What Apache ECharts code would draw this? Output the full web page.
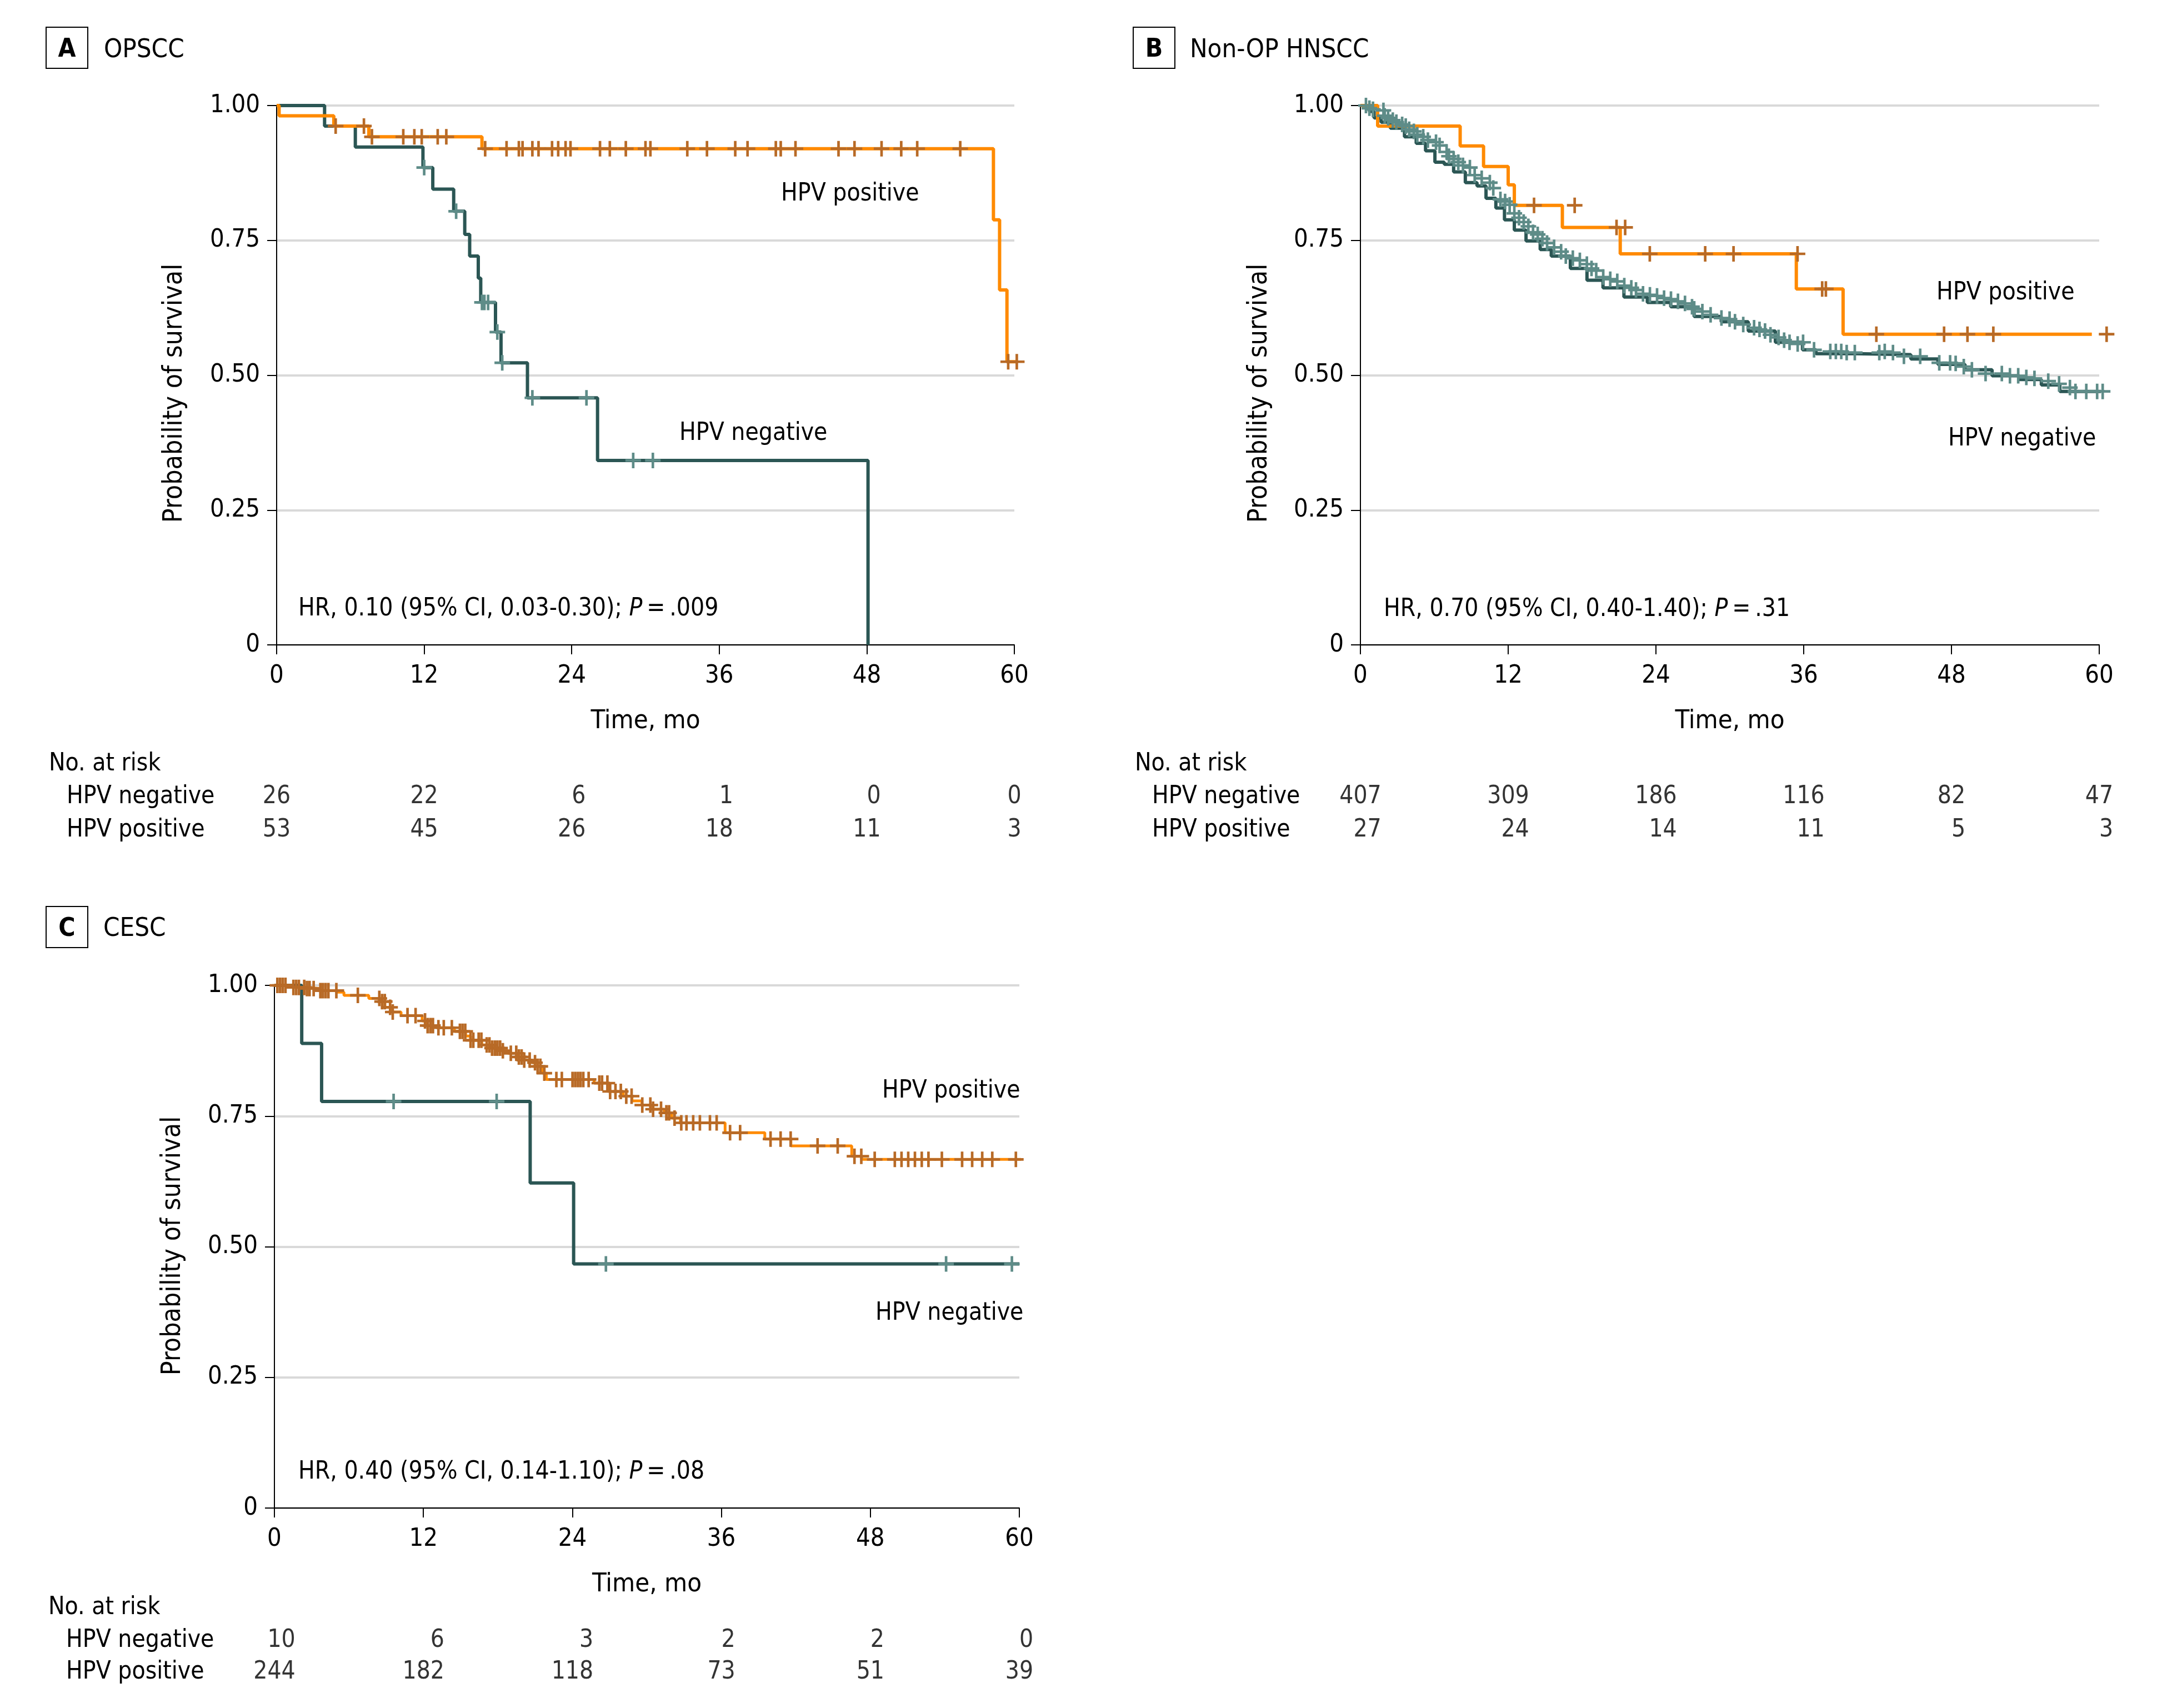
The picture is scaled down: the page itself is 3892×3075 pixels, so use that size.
<!DOCTYPE html>
<html><head><meta charset="utf-8">
<script src="https://cdn.jsdelivr.net/npm/echarts@6/dist/echarts.min.js"></script>
<style>html,body{margin:0;padding:0;background:#fff}#c{width:3892px;height:3075px}</style>
</head><body><div id="c"></div>
<script>
// ---------------- DATA ----------------
const timeTicks = [0, 12, 24, 36, 48, 60];

// Panel A: OPSCC
const aNegLine = [[0,1],[3.9,0.962],[6.4,0.923],[11.9,0.885],[12.7,0.845],[14.4,0.804],[15.3,0.761],[15.7,0.721],[16.4,0.68],[16.6,0.635],[17.8,0.58],[18.25,0.523],[20.4,0.458],[26.1,0.342],[48.1,0]];
const aNegCens = [12.0,14.6,16.7,16.9,17.2,17.95,18.35,20.8,25.2,29.0,30.6];
const aPosLine = [[0,1],[0.2,0.981],[4.65,0.962],[7.5,0.942],[16.7,0.920],[58.3,0.788],[58.8,0.658],[59.4,0.525],[60.6,0.525]];
const aPosCens = [4.8,7.1,7.75,10.3,11.2,11.8,13.1,13.8,16.96,18.7,19.7,20.0,20.8,21.3,22.4,22.9,23.5,23.9,26.3,27.1,28.4,30.0,30.4,33.4,35.0,37.3,38.3,40.6,41.0,42.2,45.7,47.0,49.2,50.8,52.1,55.6,59.5,60.2];
const aRiskNeg = [26, 22, 6, 1, 0, 0];
const aRiskPos = [53, 45, 26, 18, 11, 3];

// Panel B: Non-OP HNSCC
const bNegLine = [[0,1],[0.74,0.989],[1.11,0.977],[1.68,0.969],[2.43,0.958],[3.58,0.942],[4.53,0.930],[5.29,0.916],[6.05,0.895],[6.81,0.891],[7.57,0.877],[8.52,0.857],[9.47,0.851],[10.2,0.828],[11.0,0.810],[11.7,0.788],[12.5,0.769],[13.45,0.749],[14.6,0.733],[15.5,0.721],[17.05,0.698],[18.4,0.676],[19.7,0.662],[21.4,0.645],[23.3,0.635],[25.2,0.627],[27.1,0.609],[29.3,0.599],[31.5,0.582],[33.7,0.561],[35.9,0.547],[37.0,0.540],[40.3,0.538],[44.7,0.530],[46.9,0.520],[49.1,0.510],[51.3,0.499],[53.5,0.492],[55.3,0.482],[56.8,0.470],[60.5,0.470]];
const bNegCens = [[0.45,1.0],[0.73,0.995],[1.02,0.993],[1.87,0.991],[1.97,0.981],[2.25,0.977],[2.63,0.973],[2.92,0.969],[3.39,0.965],[3.68,0.962],[3.96,0.956],[4.34,0.952],[4.62,0.946],[5.10,0.942],[5.48,0.936],[6.14,0.932],[6.43,0.926],[7.00,0.914],[7.19,0.906],[7.57,0.901],[7.95,0.895],[8.33,0.889],[8.89,0.885],[9.28,0.871],[9.85,0.865],[10.51,0.857],[10.79,0.847],[11.37,0.826],[11.75,0.822],[12.12,0.816],[12.50,0.800],[12.88,0.792],[13.26,0.784],[13.64,0.776],[14.02,0.765],[14.40,0.761],[14.78,0.753],[15.16,0.745],[15.73,0.737],[16.30,0.729],[16.68,0.721],[17.25,0.717],[17.82,0.713],[18.39,0.706],[18.77,0.698],[19.15,0.694],[19.72,0.682],[20.29,0.678],[20.86,0.674],[21.43,0.666],[22.00,0.662],[22.38,0.658],[22.95,0.651],[23.51,0.649],[24.09,0.647],[24.66,0.643],[25.22,0.641],[25.79,0.637],[26.36,0.633],[26.93,0.627],[27.11,0.623],[27.77,0.618],[28.44,0.612],[29.32,0.606],[29.98,0.604],[30.42,0.599],[31.09,0.594],[31.97,0.588],[32.41,0.585],[32.86,0.582],[33.30,0.575],[33.96,0.570],[34.41,0.565],[34.85,0.561],[35.51,0.558],[35.95,0.561],[36.84,0.547],[38.16,0.544],[38.61,0.544],[39.05,0.544],[39.49,0.542],[40.15,0.542],[42.14,0.542],[42.58,0.544],[43.25,0.542],[44.14,0.535],[45.46,0.535],[47.01,0.523],[47.89,0.523],[48.34,0.522],[49.00,0.516],[49.66,0.510],[50.77,0.503],[52.09,0.503],[52.75,0.499],[53.42,0.499],[54.08,0.496],[54.74,0.494],[55.86,0.489],[56.74,0.484],[57.62,0.477],[58.07,0.470],[58.95,0.470],[59.83,0.470],[60.28,0.470]];
const bPosLine = [[0,1],[1.4,0.962],[8.1,0.925],[10.0,0.887],[12.0,0.853],[12.5,0.815],[16.4,0.774],[21.1,0.725],[35.4,0.660],[39.2,0.576],[59.4,0.576]];
const bPosCens = [[14.1,0.815],[17.4,0.815],[20.8,0.774],[21.5,0.774],[23.5,0.725],[28.0,0.725],[30.3,0.725],[35.5,0.725],[37.5,0.660],[37.8,0.660],[41.9,0.576],[47.4,0.576],[49.3,0.576],[51.4,0.576],[60.6,0.576]];
const bRiskNeg = [407, 309, 186, 116, 82, 47];
const bRiskPos = [27, 24, 14, 11, 5, 3];

// Panel C: CESC
const cNegLine = [[0,1],[2.2,0.889],[3.8,0.778],[20.6,0.622],[24.1,0.467],[60,0.467]];
const cNegCens = [9.6,17.9,26.7,54.1,59.4];
const cPosLine = [[0,1],[1.5,0.996],[2.6,0.994],[3.7,0.990],[5.0,0.987],[5.6,0.981],[7.6,0.975],[8.5,0.969],[8.9,0.958],[9.5,0.949],[10.2,0.942],[11.9,0.932],[12.3,0.923],[13.2,0.919],[14.5,0.912],[15.4,0.903],[15.8,0.895],[16.7,0.886],[17.5,0.880],[18.2,0.875],[18.8,0.870],[19.5,0.863],[20.1,0.857],[20.8,0.852],[21.2,0.845],[21.6,0.832],[21.9,0.820],[25.75,0.813],[27.0,0.797],[28.1,0.788],[28.8,0.779],[29.6,0.771],[30.5,0.763],[31.4,0.756],[32.0,0.746],[32.7,0.737],[36.3,0.718],[39.5,0.706],[41.6,0.693],[46.5,0.673],[47.3,0.667],[60.3,0.667]];
const cPosCens = [0.24,0.46,0.67,0.89,1.53,1.75,1.97,2.40,2.62,2.83,3.16,3.70,3.91,4.13,4.35,4.99,6.72,8.45,8.67,8.89,9.32,9.53,10.72,11.37,12.13,12.34,12.56,12.77,13.21,13.64,14.29,14.94,15.15,15.37,15.80,16.02,16.45,16.67,17.10,17.32,17.53,17.75,17.96,18.18,18.40,19.04,19.48,19.69,19.91,20.12,20.56,20.99,21.20,21.42,21.74,22.71,23.15,24.01,24.23,24.45,24.66,24.88,25.31,26.17,26.39,26.82,27.04,27.47,27.90,28.34,28.77,29.63,30.28,30.50,31.14,31.57,31.79,32.23,32.77,33.19,33.73,34.27,35.08,35.62,36.70,37.51,39.96,40.77,41.58,43.75,45.37,46.72,47.27,48.35,49.97,50.51,51.05,51.59,52.14,52.68,53.76,55.39,56.20,57.01,57.82,59.72];
const cRiskNeg = [10, 6, 3, 2, 2, 0];
const cRiskPos = [244, 182, 118, 73, 51, 39];

const rowNames = ['HPV negative', 'HPV positive'];

// ---------------- STYLE ----------------
const FONT = '"DejaVu Sans Condensed", "DejaVu Sans", sans-serif';
const C_NEG = '#2b5654', C_NEG_C = '#5e8c88', C_POS = '#ff8a00', C_POS_C = '#b86a26';
const PLUS = 'path://M12.5,0h5v12.5h12.5v5h-12.5v12.5h-5v-12.5h-12.5v-5h12.5z';
const DY = 4; // small vertical nudge for text baselines

function stepAt(line, t) {
  let v = line[0][1];
  for (const p of line) { if (p[0] <= t) v = p[1]; }
  return v;
}

const panels = [
  { plot: {left: 498, top: 190, width: 1328, height: 971},
    risk: {left: 498, top: 1405, width: 1328, height: 120}, riskMargin: 378,
    negLine: aNegLine, negCens: aNegCens.map(t => [t, stepAt(aNegLine, t)]),
    posLine: aPosLine, posCens: aPosCens.map(t => [t, stepAt(aPosLine, t)]),
    riskNeg: aRiskNeg, riskPos: aRiskPos, posW: 6 },
  { plot: {left: 2449, top: 190, width: 1330, height: 971},
    risk: {left: 2449, top: 1405, width: 1330, height: 120}, riskMargin: 375,
    negLine: bNegLine, negCens: bNegCens,
    posLine: bPosLine, posCens: bPosCens,
    riskNeg: bRiskNeg, riskPos: bRiskPos, posW: 6 },
  { plot: {left: 494, top: 1774, width: 1341, height: 941},
    risk: {left: 494, top: 2925, width: 1341, height: 114}, riskMargin: 375,
    negLine: cNegLine, negCens: cNegCens.map(t => [t, stepAt(cNegLine, t)]),
    posLine: cPosLine, posCens: cPosCens.map(t => [t, stepAt(cPosLine, t)]),
    riskNeg: cRiskNeg, riskPos: cRiskPos, posW: 5 }
];

const grid = [], xAxis = [], yAxis = [], series = [];
const txt = {color: '#000', fontFamily: FONT};

panels.forEach((p, k) => {
  const gi = k * 2, ri = k * 2 + 1;
  grid.push(p.plot, p.risk);
  xAxis.push({
    gridIndex: gi, type: 'value', min: 0, max: 60, interval: 12,
    axisLine: {show: true, onZero: false, lineStyle: {color: '#000', width: 2}},
    axisTick: {show: true, length: 17, lineStyle: {color: '#000', width: 2}},
    axisLabel: Object.assign({fontSize: 45, margin: 34}, txt),
    splitLine: {show: false},
    name: 'Time, mo', nameLocation: 'middle', nameGap: 114,
    nameTextStyle: Object.assign({fontSize: 47}, txt)
  }, {
    gridIndex: ri, type: 'value', min: 0, max: 60, show: false
  });
  yAxis.push({
    gridIndex: gi, type: 'value', min: 0, max: 1, interval: 0.25,
    axisLine: {show: true, lineStyle: {color: '#000', width: 2}},
    axisTick: {show: true, length: 17, lineStyle: {color: '#000', width: 2}},
    axisLabel: Object.assign({fontSize: 45, margin: 30, padding: [9, 0, 0, 0],
      formatter: v => v === 0 ? '0' : v.toFixed(2)}, txt),
    splitLine: {show: true, lineStyle: {color: '#d9d9d9', width: 4}}
  }, {
    gridIndex: ri, type: 'category', data: rowNames, inverse: true,
    axisLine: {show: false}, axisTick: {show: false}, splitLine: {show: false},
    axisLabel: Object.assign({fontSize: 44, align: 'left', margin: p.riskMargin, interval: 0}, txt)
  });
  series.push(
    {type: 'line', xAxisIndex: gi, yAxisIndex: gi, step: 'end', data: p.negLine, symbol: 'none',
     lineStyle: {color: C_NEG, width: 6}, clip: false, z: 3, silent: true},
    {type: 'line', xAxisIndex: gi, yAxisIndex: gi, step: 'end', data: p.posLine, symbol: 'none',
     lineStyle: {color: C_POS, width: p.posW}, clip: false, z: 4, silent: true},
    {type: 'scatter', xAxisIndex: gi, yAxisIndex: gi, data: p.negCens, symbol: PLUS, symbolSize: 28,
     itemStyle: {color: C_NEG_C, opacity: 1}, clip: false, z: 5, silent: true},
    {type: 'scatter', xAxisIndex: gi, yAxisIndex: gi, data: p.posCens, symbol: PLUS, symbolSize: 28,
     itemStyle: {color: C_POS_C, opacity: 1}, clip: false, z: 6, silent: true}
  );
  [p.riskNeg, p.riskPos].forEach((arr, row) => {
    series.push({
      type: 'scatter', xAxisIndex: ri, yAxisIndex: ri, symbolSize: 1, silent: true,
      itemStyle: {color: 'rgba(0,0,0,0)'},
      data: arr.map((n, i) => {
        const maxLen = Math.max(String(p.riskNeg[i]).length, String(p.riskPos[i]).length);
        return {value: [timeTicks[i], row, n], label: {offset: [maxLen * 12.6, 0]}};
      }),
      label: Object.assign({show: true, position: 'inside', align: 'right', verticalAlign: 'middle',
        fontSize: 44, formatter: q => String(q.value[2])}, txt)
    });
  });
});

// ---------------- ANNOTATIONS ----------------
function T(x, y, text, extra) {
  return {type: 'text', x: x, y: y + DY, silent: true,
    style: Object.assign({text: text, fill: '#000', fontFamily: FONT, fontSize: 44, align: 'left', verticalAlign: 'middle'}, extra || {})};
}
function box(x, y, letter) {
  return [
    {type: 'rect', silent: true, shape: {x: x, y: y, width: 75, height: 74}, style: {fill: 'none', stroke: '#000', lineWidth: 2}},
    T(x + 37.5, y + 37, letter, {fontWeight: 'bold', fontSize: 46, align: 'center'})
  ];
}
function hr(x, y, a, b) {
  return T(x, y, a + '{i|P}\u2009=\u2009' + b, {rich: {i: {fontStyle: 'italic', fontSize: 44, fontFamily: FONT, fill: '#000'}}});
}
const graphic = [].concat(
  box(83, 49, 'A'), [T(187, 87, 'OPSCC', {fontSize: 47})],
  box(2040, 49, 'B'), [T(2142, 87, 'Non-OP HNSCC', {fontSize: 47})],
  box(83, 1632, 'C'), [T(186, 1669, 'CESC', {fontSize: 47})],
  [
    T(1406, 346, 'HPV positive'), T(1223, 777, 'HPV negative'),
    T(3486, 524, 'HPV positive'), T(3507, 787, 'HPV negative'),
    T(1588, 1961, 'HPV positive'), T(1576, 2361, 'HPV negative'),
    hr(537, 1093, 'HR, 0.10 (95% CI, 0.03-0.30); ', '.009'),
    hr(2491, 1094, 'HR, 0.70 (95% CI, 0.40-1.40); ', '.31'),
    hr(537, 2647, 'HR, 0.40 (95% CI, 0.14-1.10); ', '.08'),
    T(88, 1372, 'No. at risk'), T(2043, 1372, 'No. at risk'), T(87, 2891, 'No. at risk')
  ]
);
// rotated y-axis titles
[[315, 708], [2268, 708], [312, 2243]].forEach(([x, y]) => {
  graphic.push({type: 'text', x: x, y: y, rotation: Math.PI / 2, silent: true,
    style: {text: 'Probability of survival', fill: '#000', fontFamily: FONT, fontSize: 48, align: 'center', verticalAlign: 'middle'}});
});

const chart = echarts.init(document.getElementById('c'), null, {renderer: 'canvas'});
chart.setOption({
  animation: false, backgroundColor: '#fff',
  grid: grid, xAxis: xAxis, yAxis: yAxis, series: series, graphic: graphic
});
</script>
</body></html>
